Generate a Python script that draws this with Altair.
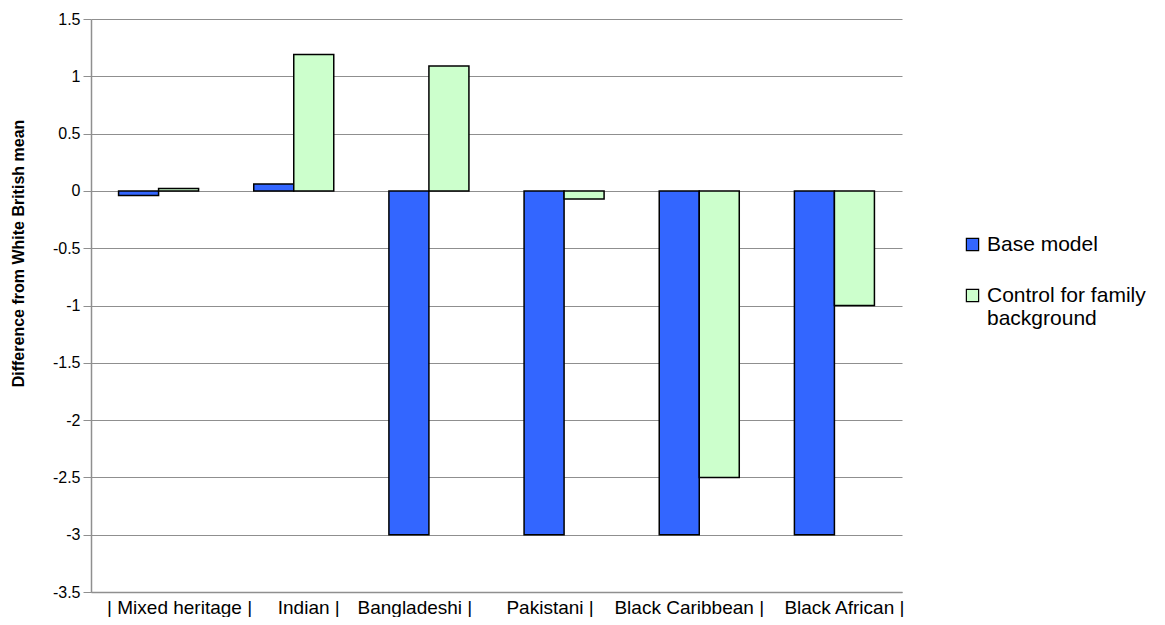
import altair as alt
import pandas as pd

categories = ["| Mixed heritage |", "Indian |", "Bangladeshi  |", "Pakistani  |",
              "Black Caribbean |", "Black African |"]
base_model = [-0.04, 0.06, -3.0, -3.0, -3.0, -3.0]
control_family = [0.02, 1.19, 1.09, -0.07, -2.5, -1.0]
series_names = ["Base model", "Control for family background"]
label_shift = [21, 15, -14, -14, -10, 10]

rows = []
for i, c in enumerate(categories):
    rows.append({"group": c, "series": series_names[0], "value": base_model[i]})
    rows.append({"group": c, "series": series_names[1], "value": control_family[i]})
df = pd.DataFrame(rows)

FONT = "Liberation Sans"

offset_cond = {
    "condition": [
        {"test": f"datum.value == '{c}'", "value": s}
        for c, s in zip(categories, label_shift)
    ],
    "value": 0,
}

chart = alt.Chart(df).mark_bar(stroke="black", strokeWidth=1.5).encode(
    x=alt.X("group:N", sort=categories,
            scale=alt.Scale(paddingInner=0.408, paddingOuter=0.204),
            axis=alt.Axis(title=None, labelAngle=0, labelFontSize=19,
                          labelFont=FONT, labelColor="black", ticks=False,
                          domainColor="#8f8f8f", domainWidth=1.5, labelPadding=6,
                          labelOffset=offset_cond, labelLimit=300)),
    xOffset=alt.XOffset("series:N", sort=series_names,
                        scale=alt.Scale(paddingInner=0, paddingOuter=0)),
    y=alt.Y("value:Q",
            scale=alt.Scale(domain=[-3.5, 1.5], nice=False, zero=False),
            axis=alt.Axis(title="Difference from White British mean",
                          values=[-3.5, -3, -2.5, -2, -1.5, -1, -0.5, 0, 0.5, 1, 1.5],
                          format="~g",
                          labelExpr="replace(datum.label, '\u2212', '-')",
                          labelFontSize=16, labelFont=FONT,
                          labelColor="black", titleFont=FONT, titleFontSize=16,
                          titleFontWeight="bold", titleColor="black", titlePadding=26,
                          titleY=234,
                          gridColor="#8f8f8f", gridWidth=1.2, domainColor="#8f8f8f",
                          domainWidth=1.5, tickColor="#8f8f8f", tickSize=8,
                          labelPadding=3)),
    color=alt.Color("series:N", sort=series_names,
                    scale=alt.Scale(domain=series_names, range=["#3366ff", "#ccffcc"]),
                    legend=alt.Legend(title=None, orient="none", legendX=871, legendY=215,
                                      symbolType="square", symbolSize=150,
                                      symbolStrokeColor="black", symbolStrokeWidth=1.2,
                                      labelFont=FONT, labelFontSize=21, labelColor="black",
                                      labelOffset=4, rowPadding=29, labelLimit=300,
                                      labelExpr="datum.label == 'Control for family background' ? ['Control for family', 'background'] : datum.label")),
).properties(
    width=811, height=573,
    autosize=alt.AutoSizeParams(type="none"),
    padding={"left": 83, "top": 11, "right": 255, "bottom": 25},
).configure_view(stroke=None).configure_axis(grid=True).configure_axisX(grid=False)

chart.save("out.html", embed_options={"renderer": "svg", "actions": False})
